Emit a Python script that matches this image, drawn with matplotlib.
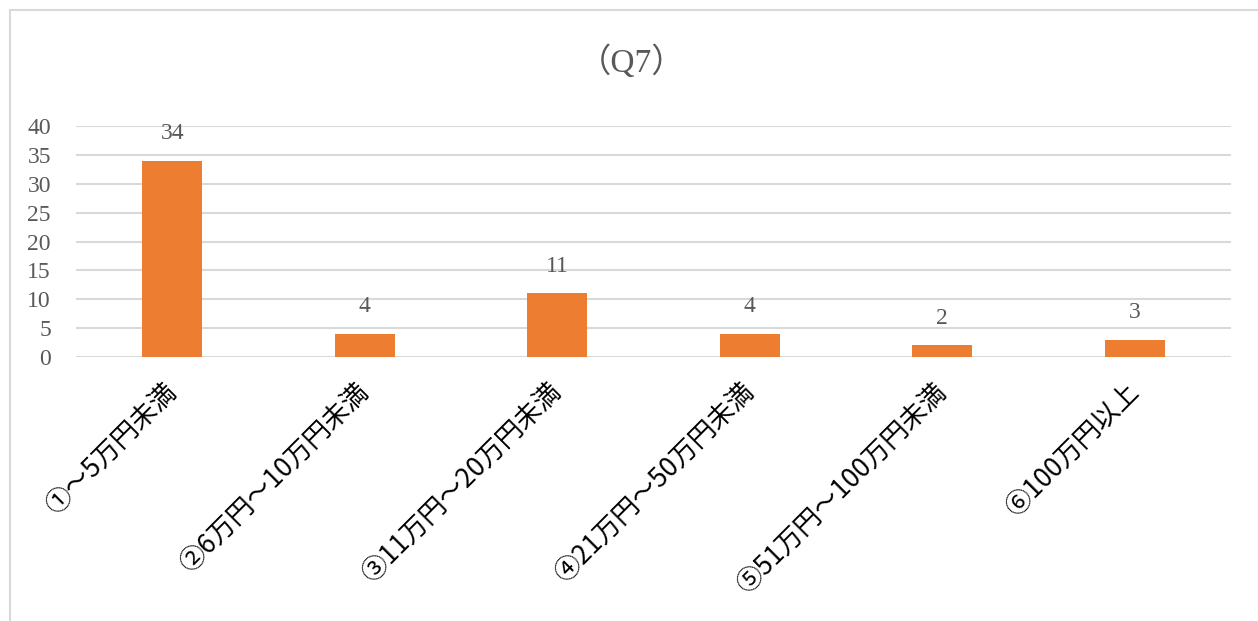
import matplotlib.pyplot as plt
from matplotlib.lines import Line2D

# survey answers for Q7
categories = ['①～5万円未満', '②6万円～10万円未満', '③11万円～20万円未満',
              '④21万円～50万円未満', '⑤51万円～100万円未満', '⑥100万円以上']
counts = [34, 4, 11, 4, 2, 3]
yticks = [0, 5, 10, 15, 20, 25, 30, 35, 40]

bar_color = '#ED7D31'
grid_color = '#D9D9D9'
text_gray = '#595959'
num_font = ['Liberation Serif', 'Noto Sans CJK JP']
jp_font = ['Noto Sans CJK JP', 'DejaVu Sans']

fig = plt.figure(figsize=(12.58, 6.21), dpi=100)
ax = fig.add_axes([76 / 1258, (621 - 357) / 621, 1155 / 1258, 231 / 621])

x = list(range(len(categories)))
ax.bar(x, counts, width=0.31, color=bar_color, zorder=3)

for xi, v in zip(x, counts):
    ax.annotate(str(v), (xi, v), xytext=(0, 12), textcoords='offset points',
                ha='center', va='bottom', fontsize=17, color=text_gray,
                family=num_font)

ax.set_xlim(-0.5, len(categories) - 0.5)
ax.set_ylim(0, 40)
ax.set_yticks(yticks)
ax.set_yticklabels([str(t) for t in yticks], family=num_font, fontsize=17,
                   color=text_gray)
ax.set_xticks(x)
ax.set_xticklabels(categories, rotation=45, ha='right', va='center',
                   rotation_mode='anchor', family=jp_font, fontsize=19,
                   color='black')
ax.tick_params(axis='y', length=0, pad=18)
ax.tick_params(axis='x', length=0, pad=22)

ax.grid(axis='y', color=grid_color, linewidth=1.5, zorder=0)
for s in ax.spines.values():
    s.set_visible(False)

fig.text(632 / 1258, 1 - 62 / 621, '（Q7）', ha='center', va='center',
         fontsize=24, color=text_gray, family=num_font)

# chart frame
fig.add_artist(Line2D([10 / 1258, 10 / 1258], [0, 1 - 10 / 621],
                      color=grid_color, linewidth=1.5))
fig.add_artist(Line2D([10 / 1258, 1], [1 - 10 / 621, 1 - 10 / 621],
                      color=grid_color, linewidth=1.5))

fig.savefig('out.png', dpi=100, facecolor='white')
